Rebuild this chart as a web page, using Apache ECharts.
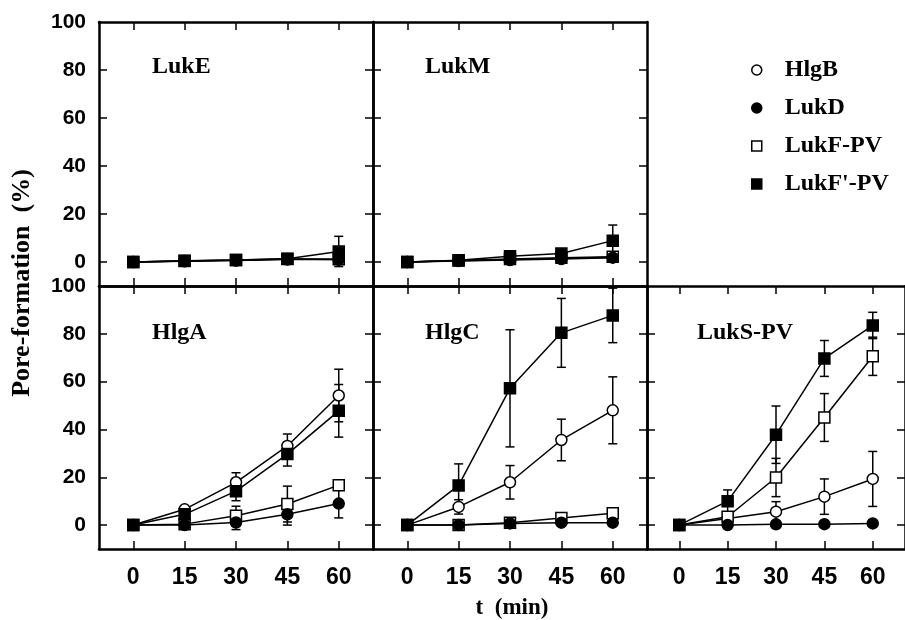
<!DOCTYPE html>
<html><head><meta charset="utf-8">
<script src="https://cdn.jsdelivr.net/npm/echarts@6/dist/echarts.min.js"></script>
<style>html,body{margin:0;padding:0;background:#fff}#c{width:905px;height:620px}</style>
</head><body><div id="c"></div>
<script>
// ---- data ----
const times = [0, 15, 30, 45, 60];
const xTicks = [0, 15, 30, 45, 60];
const yTicks = [0, 20, 40, 60, 80];
const yLabelValues = [0, 20, 40, 60, 80, 100];
const seriesNames = ['HlgB', 'LukD', 'LukF-PV', "LukF'-PV"];
const panelNames = ['LukE', 'LukM', 'HlgA', 'HlgC', 'LukS-PV'];

// LukE
const lukE_HlgB = [0, 0.4, 0.7, 1.2, 1.0];
const lukE_LukD = [0, 0.3, 0.6, 1.0, 1.0];
const lukE_LukFPV = [0, 0.4, 0.8, 1.3, 1.1];
const lukE_LukF2PV = [0, 0.5, 0.8, 1.4, 4.4];
const lukE_LukF2PV_err = [0, 0, 0, 0, 6.3];
// LukM
const lukM_HlgB = [0, 0.5, 1.0, 1.5, 2.0];
const lukM_LukD = [0, 0.4, 0.8, 1.2, 1.8];
const lukM_LukFPV = [0, 0.6, 1.2, 1.8, 2.2];
const lukM_LukF2PV = [0, 0.7, 2.4, 3.5, 8.9];
const lukM_LukF2PV_err = [0, 0, 0, 0, 6.5];
// HlgA
const hlgA_HlgB = [0, 6.6, 17.9, 33.1, 54.2];
const hlgA_HlgB_err = [0, 0, 4, 5, 11];
const hlgA_LukD = [0, 0, 1.1, 4.5, 9];
const hlgA_LukD_err = [0, 0, 3, 4.5, 6];
const hlgA_LukFPV = [0, 0.4, 3.9, 8.8, 16.7];
const hlgA_LukFPV_err = [0, 0, 4, 7.5, 0];
const hlgA_LukF2PV = [0, 4.5, 14.2, 29.7, 47.8];
const hlgA_LukF2PV_err = [0, 0, 4, 5, 11];
// HlgC
const hlgC_HlgB = [0, 7.6, 17.9, 35.6, 48];
const hlgC_HlgB_err = [0, 3, 7, 8.7, 14];
const hlgC_LukD = [0, 0, 0.7, 1, 1];
const hlgC_LukFPV = [0, 0, 1, 3, 5];
const hlgC_LukF2PV = [0, 16.6, 57.2, 80.4, 87.7];
const hlgC_LukF2PV_err = [0, 9, 24.5, 14.4, 11.4];
// LukS-PV
const lukS_HlgB = [0, 2.8, 5.6, 11.9, 19.3];
const lukS_HlgB_err = [0, 1.5, 4.2, 7.4, 11.5];
const lukS_LukD = [0, 0, 0.3, 0.4, 0.7];
const lukS_LukFPV = [0, 3.5, 19.9, 45, 70.6];
const lukS_LukFPV_err = [0, 1.5, 8, 10, 8];
const lukS_LukF2PV = [0, 10, 37.8, 69.7, 83.5];
const lukS_LukF2PV_err = [0, 4.7, 12, 7.5, 5.5];

const zeros = [0, 0, 0, 0, 0];
const panelData = [
  [[lukE_HlgB, zeros], [lukE_LukD, zeros], [lukE_LukFPV, zeros], [lukE_LukF2PV, lukE_LukF2PV_err]],
  [[lukM_HlgB, zeros], [lukM_LukD, zeros], [lukM_LukFPV, zeros], [lukM_LukF2PV, lukM_LukF2PV_err]],
  [[hlgA_HlgB, hlgA_HlgB_err], [hlgA_LukD, hlgA_LukD_err], [hlgA_LukFPV, hlgA_LukFPV_err], [hlgA_LukF2PV, hlgA_LukF2PV_err]],
  [[hlgC_HlgB, hlgC_HlgB_err], [hlgC_LukD, zeros], [hlgC_LukFPV, zeros], [hlgC_LukF2PV, hlgC_LukF2PV_err]],
  [[lukS_HlgB, lukS_HlgB_err], [lukS_LukD, zeros], [lukS_LukFPV, lukS_LukFPV_err], [lukS_LukF2PV, lukS_LukF2PV_err]]
];

// ---- layout / style ----
const grids = [
  {left: 99, top: 22, width: 274, height: 264},
  {left: 373, top: 22, width: 274, height: 264},
  {left: 99, top: 286, width: 274, height: 263},
  {left: 373, top: 286, width: 274, height: 263},
  {left: 647, top: 286, width: 274, height: 263}
];
const showYLabels = [true, false, true, false, false];
const showXLabels = [false, false, true, true, true];
const labelPos = [[152, 67], [425, 67], [152, 333], [425, 333], [697, 333]];
const symStyle = {
  'HlgB': {symbol: 'circle', fill: '#fff', z: 3},
  'LukD': {symbol: 'circle', fill: '#000', z: 5},
  'LukF-PV': {symbol: 'rect', fill: '#fff', z: 4},
  "LukF'-PV": {symbol: 'rect', fill: '#000', z: 6}
};
const serif = '"Liberation Serif", "Times New Roman", serif';

const xAxes = [], yAxes = [], series = [];
grids.forEach((g, i) => {
  ['bottom', 'top'].forEach(pos => {
    xAxes.push({
      type: 'value', gridIndex: i, position: pos, min: -10, max: 70,
      splitLine: {show: false},
      axisLine: {show: true, onZero: false, lineStyle: {color: '#000', width: 2.5}},
      axisTick: {show: true, inside: true, length: 8, customValues: xTicks, lineStyle: {color: '#000', width: 1.5}},
      axisLabel: {show: pos === 'bottom' && showXLabels[i], customValues: xTicks, margin: 17,
        fontFamily: '"Liberation Sans", Arial, sans-serif', fontWeight: 'bold', fontSize: 23, color: '#000'}
    });
  });
  ['left', 'right'].forEach(pos => {
    yAxes.push({
      type: 'value', gridIndex: i, position: pos, min: -10, max: 100,
      splitLine: {show: false},
      axisLine: {show: true, onZero: false, lineStyle: {color: '#000', width: 2.5}},
      axisTick: {show: true, inside: true, length: 8, customValues: yTicks, lineStyle: {color: '#000', width: 1.5}},
      axisLabel: {show: pos === 'left' && showYLabels[i], customValues: yLabelValues, margin: 13,
        fontFamily: '"Liberation Sans", Arial, sans-serif', fontWeight: 'bold', fontSize: 21, color: '#000'}
    });
  });
  panelData[i].forEach((pair, s) => {
    const name = seriesNames[s];
    const vals = pair[0], errs = pair[1];
    const st = symStyle[name];
    const errData = [];
    times.forEach((t, k) => { if (errs[k] > 0) errData.push([t, vals[k] - errs[k], vals[k] + errs[k]]); });
    series.push({
      type: 'custom', name: name + ' error', xAxisIndex: i * 2, yAxisIndex: i * 2, z: 2, silent: true,
      data: errData,
      renderItem: (params, api) => {
        const x = api.value(0);
        const p1 = api.coord([x, api.value(1)]);
        const p2 = api.coord([x, api.value(2)]);
        const w = 4.5, ls = {stroke: '#000', lineWidth: 1.5};
        return {type: 'group', children: [
          {type: 'line', shape: {x1: p1[0], y1: p1[1], x2: p2[0], y2: p2[1]}, style: ls},
          {type: 'line', shape: {x1: p1[0] - w, y1: p1[1], x2: p1[0] + w, y2: p1[1]}, style: ls},
          {type: 'line', shape: {x1: p2[0] - w, y1: p2[1], x2: p2[0] + w, y2: p2[1]}, style: ls}
        ]};
      }
    });
    series.push({
      type: 'line', name: name, xAxisIndex: i * 2, yAxisIndex: i * 2, z: st.z,
      data: times.map((t, k) => [t, vals[k]]),
      symbol: st.symbol, symbolSize: 11, showSymbol: true,
      lineStyle: {color: '#000', width: 1.5},
      itemStyle: {color: st.fill, borderColor: '#000', borderWidth: 1.5},
      emphasis: {disabled: true}
    });
  });
});

const graphics = panelNames.map((n, i) => ({
  type: 'text', x: labelPos[i][0], y: labelPos[i][1],
  style: {text: n, font: 'bold 24px ' + serif, fill: '#000', verticalAlign: 'middle'}
}));
graphics.push({type: 'text', x: 22, y: 283, rotation: Math.PI / 2,
  style: {text: 'Pore-formation  (%)', font: 'bold 26px ' + serif, fill: '#000', align: 'center', verticalAlign: 'middle'}});
graphics.push({type: 'text', x: 512, y: 608,
  style: {text: 't  (min)', font: 'bold 23px ' + serif, fill: '#000', align: 'center', verticalAlign: 'middle'}});

const chart = echarts.init(document.getElementById('c'), null, {renderer: 'canvas'});
chart.setOption({
  animation: false,
  backgroundColor: '#fff',
  grid: grids.map(g => Object.assign({containLabel: false}, g)),
  xAxis: xAxes,
  yAxis: yAxes,
  legend: {
    orient: 'vertical', left: 746, top: 53, itemWidth: 10, itemHeight: 10, itemGap: 14,
    selectedMode: false,
    data: seriesNames.map(n => ({name: n, icon: symStyle[n].symbol,
      itemStyle: {color: symStyle[n].fill, borderColor: '#000', borderWidth: 1.5}})),
    textStyle: {fontFamily: serif, fontWeight: 'bold', fontSize: 24, color: '#000', padding: [0, 0, 0, 18]}
  },
  graphic: graphics,
  series: series
});
</script>
</body></html>
